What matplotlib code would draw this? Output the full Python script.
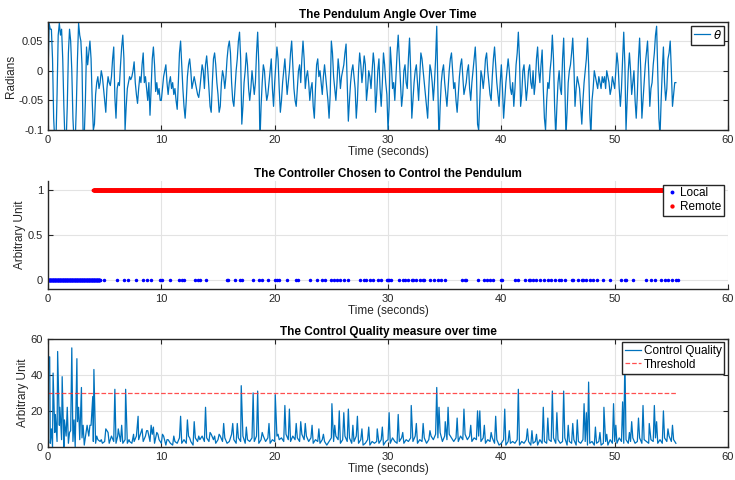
import numpy as np
import matplotlib
matplotlib.use("Agg")
import matplotlib.pyplot as plt

plt.rcParams["font.family"] = ["Liberation Sans", "DejaVu Sans"]
plt.rcParams["axes.unicode_minus"] = False

# pendulum angle, sampled every 0.1 s (one row per second)
theta_dt = 0.1
theta = [
    -0.01, 0.08, 0.07, 0.07, 0.02, -0.08, -0.12, -0.12, -0.04, 0.06,
    0.08, 0.06, 0.07, 0.02, -0.06, -0.12, -0.12, -0.06, 0.03, 0.07,
    0.05, 0.0, -0.08, -0.12, -0.12, -0.06, 0.02, 0.08, 0.06, 0.05,
    0.01, -0.11, -0.11, -0.05, 0.04, 0.01, 0.03, 0.05, 0.02, -0.05,
    -0.10, -0.09, -0.04, -0.02, -0.01, -0.03, -0.02, 0.0, -0.01, -0.03,
    -0.05, -0.07, -0.03, -0.01, -0.02, -0.025, -0.01, 0.02, 0.04, -0.045,
    -0.08, -0.03, -0.02, -0.025, 0.01, 0.04, 0.06, 0.02, -0.10, -0.06,
    -0.03, -0.02, -0.01, -0.015, -0.01, 0.0, 0.015, -0.02, -0.04, -0.055,
    -0.03, -0.01, -0.02, 0.01, 0.03, -0.02, -0.01, -0.03, -0.05, -0.02,
    -0.075, -0.03, 0.02, 0.04, 0.01, -0.035, -0.02, -0.04, -0.03, -0.05,
    -0.05, -0.03, -0.01, 0.0, 0.01, -0.02, -0.04, -0.02, -0.01, -0.03,
    -0.02, -0.04, -0.03, -0.05, -0.065, -0.02, 0.03, 0.05, 0.01, -0.03,
    -0.06, -0.08, -0.05, -0.01, 0.01, 0.02, 0.0, -0.03, -0.02, -0.01,
    -0.02, -0.03, -0.04, -0.045, -0.03, -0.01, 0.01, 0.0, -0.03, 0.01,
    0.025, 0.0, -0.03, -0.06, -0.07, -0.02, 0.02, 0.03, 0.01, -0.02,
    -0.04, -0.07, -0.06, -0.02, 0.0, -0.01, -0.03, -0.01, 0.02, 0.04,
    0.05, 0.03, -0.02, -0.05, -0.06, -0.03, 0.0, 0.02, 0.05, 0.065,
    0.02, -0.09, -0.06, -0.02, 0.0, 0.03, 0.01, -0.03, -0.05, -0.03,
    0.0, -0.02, -0.04, -0.02, 0.03, 0.065, 0.01, -0.12, -0.06, -0.02,
    0.01, 0.0, -0.03, -0.05, -0.04, -0.02, 0.0, 0.02, -0.03, -0.06,
    -0.02, 0.01, 0.04, 0.02, -0.03, -0.07, -0.05, -0.02, 0.0, 0.02,
    -0.01, -0.04, -0.02, 0.0, 0.03, 0.05, 0.01, -0.03, -0.05, -0.06,
    -0.03, 0.0, 0.01, -0.02, 0.02, 0.05, 0.02, -0.03, -0.01, 0.0,
    -0.02, -0.05, -0.03, -0.02, -0.06, -0.08, -0.03, 0.01, 0.02, -0.01,
    0.0, -0.02, -0.04, -0.01, 0.01, -0.01, -0.03, -0.05, -0.08, -0.04,
    0.05, 0.03, -0.01, -0.03, -0.05, -0.02, 0.02, 0.0, -0.03, -0.01,
    0.0, 0.01, 0.03, 0.045, -0.02, -0.085, -0.05, -0.02, 0.0, 0.01,
    -0.01, -0.03, -0.08, -0.05, 0.0, 0.03, 0.01, -0.02, 0.0, 0.025,
    0.01, -0.05, -0.03, 0.0, -0.01, -0.03, 0.0, 0.03, 0.01, -0.07,
    -0.04, 0.0, 0.02, -0.03, -0.06, -0.02, 0.03, 0.01, -0.02, -0.04,
    -0.10, -0.06, 0.04, 0.01, -0.03, -0.02, -0.05, -0.01, 0.03, 0.06,
    0.02, -0.02, -0.06, -0.04, 0.0, 0.01, -0.02, -0.03, 0.02, 0.055,
    0.0, -0.08, -0.05, -0.02, 0.0, 0.01, -0.02, -0.05, -0.01, 0.03,
    0.02, 0.0, -0.02, -0.04, -0.06, -0.08, -0.03, 0.01, 0.0, -0.02,
    -0.05, -0.02, 0.02, 0.075, -0.03, -0.12, -0.06, -0.02, 0.0, 0.01,
    -0.02, -0.04, -0.06, -0.03, 0.0, 0.02, 0.03, 0.0, -0.03, -0.02,
    -0.05, -0.07, -0.04, -0.01, 0.01, 0.02, -0.01, -0.04, -0.03, -0.02,
    0.0, 0.01, -0.03, -0.05, -0.02, 0.0, 0.02, 0.04, 0.0, -0.09,
    -0.10, -0.05, 0.0, -0.01, -0.03, -0.01, 0.02, 0.03, 0.0, -0.02,
    -0.04, -0.05, -0.01, 0.02, 0.04, 0.01, -0.02, -0.04, -0.06, -0.02,
    0.01, -0.03, -0.08, -0.05, -0.02, 0.0, 0.02, 0.0, -0.03, -0.04,
    -0.02, -0.06, -0.03, 0.01, 0.03, 0.065, 0.02, -0.06, -0.04, 0.0,
    0.01, -0.02, -0.05, -0.03, 0.0, 0.01, -0.02, -0.03, 0.0, -0.04,
    -0.02, 0.02, 0.04, 0.0, -0.02, 0.01, 0.035, -0.03, -0.08, -0.10,
    -0.05, -0.02, -0.03, 0.0, 0.02, 0.06, 0.02, -0.06, -0.11, -0.06,
    -0.02, 0.0, -0.03, -0.04, 0.02, 0.055, -0.02, -0.11, -0.07, -0.02,
    0.0, 0.01, 0.03, 0.055, 0.01, -0.06, -0.03, -0.01, -0.02, -0.03,
    -0.06, -0.09, -0.05, -0.02, 0.0, 0.02, 0.055, 0.01, -0.07, -0.11,
    -0.05, -0.03, 0.0, -0.01, -0.02, -0.03, -0.01, -0.02, -0.03, -0.01,
    -0.02, -0.01, -0.03, 0.0, -0.01, -0.02, -0.04, -0.03, -0.01, -0.02,
    -0.03, 0.0, 0.03, 0.01, -0.03, -0.06, -0.03, 0.02, 0.065, 0.01,
    -0.10, -0.05, 0.0, 0.03, 0.0, -0.04, -0.02, 0.0, -0.05, -0.08,
    -0.04, 0.02, 0.055, 0.0, -0.08, -0.05, -0.02, 0.01, 0.03, 0.05,
    0.0, -0.06, -0.03, -0.02, 0.01, 0.03, 0.06, 0.075, 0.0, -0.08,
    -0.11, -0.05, 0.0, 0.04, -0.02, -0.05, -0.03, 0.02, 0.03, 0.05,
    0.0, -0.06, -0.04, -0.02, -0.02,
]

# controller choice
sample_dt = 0.02
local_dense = (0.0, 4.6)
local_times = [
    4.9, 6.1, 6.7, 7.1, 7.8, 8.4, 8.7, 9.1, 9.9, 10.1, 10.8, 11.6, 11.8, 12.0,
    13.0, 13.2, 13.4, 13.9, 15.8, 15.9, 16.5, 16.9, 17.1, 18.1, 18.6, 18.9,
    19.4, 20.0, 20.2, 20.4, 21.1, 21.9, 22.1, 23.1, 23.7, 24.2, 24.4, 25.0,
    25.2, 25.5, 25.8, 26.1, 26.5, 27.5, 27.9, 28.1, 28.4, 28.7, 29.1, 29.4,
    29.9, 30.0, 30.1, 30.3, 31.0, 31.3, 31.5, 31.8, 32.1, 32.2, 32.5, 32.8,
    33.1, 33.2, 33.7, 34.1, 34.4, 34.7, 35.0, 36.5, 36.8, 36.9, 37.9, 38.5,
    38.7, 39.0, 39.3, 40.0, 40.1, 41.2, 41.5, 42.1, 42.4, 42.5, 42.8, 43.1,
    43.4, 43.8, 44.1, 44.4, 44.7, 45.1, 45.3, 45.6, 46.2, 46.3, 46.8, 47.1,
    47.2, 47.5, 47.8, 48.1, 48.4, 49.0, 49.6, 50.6, 50.9, 51.0, 51.6, 52.8,
    53.2, 53.6, 54.1, 54.4, 54.7, 55.1, 55.4, 55.6,
]
remote_span = (4.0, 55.6)

# control quality: baseline every 0.2 s plus spikes
base_dt = 0.2
quality_base = [
    5, 2, 0, 8, 3,   12, 4, 0, 6, 2,   9, 3, 0, 14, 4,   5, 1, 10, 6, 12,
    3, 2, 4, 3, 2,   3, 9, 2, 6, 3,    2, 10, 3, 2, 4,   2, 3, 2, 3, 6,
    4, 8, 3, 6, 9,   3, 7, 2, 8, 4,    2, 6, 1, 4, 2,    1, 3, 2, 5, 2,
    4, 2, 6, 3, 1,   5, 3, 4, 6, 3,    5, 3, 7, 4, 2,    4, 6, 3, 5, 2,
    3, 7, 4, 2, 5,   3, 6, 2, 4, 3,    5, 3, 6, 2, 4,    6, 3, 5, 2, 4,
    3, 6, 4, 5, 3,   7, 4, 3, 6, 4,    5, 3, 7, 4, 6,    3, 5, 2, 4, 3,
    2, 4, 3, 1, 3,   5, 3, 6, 4, 2,    4, 6, 3, 5, 2,    3, 6, 2, 4, 1,
    2, 4, 1, 3, 2,   3, 2, 4, 1, 3,    4, 2, 5, 3, 2,    3, 5, 2, 4, 3,
    5, 3, 6, 2, 4,   3, 5, 2, 4, 6,    4, 7, 5, 8, 3,    6, 4, 7, 5, 3,
    5, 3, 6, 4, 7,   4, 6, 3, 5, 4,    6, 3, 5, 2, 4,    3, 5, 2, 4, 1,
    2, 4, 1, 3, 2,   3, 2, 4, 1, 3,    2, 4, 3, 1, 2,    3, 1, 4, 2, 3,
    2, 4, 3, 5, 2,   4, 2, 3, 5, 1,    3, 2, 4, 1, 3,    2, 4, 3, 1, 2,
    3, 1, 2, 3, 1,   2, 3, 1, 4, 2,    3, 2, 5, 3, 2,    4, 2, 3, 5, 2,
    3, 5, 2, 4, 3,   2, 4, 3, 5, 2,    4, 2, 5, 3, 6,    3, 4, 2,
]
spike_t = [
    0.05, 0.15, 0.3, 0.45, 0.65, 0.85, 1.05, 1.25, 1.45, 1.7, 1.9, 2.1, 2.3,
    2.55, 2.7, 2.95, 3.1, 3.45, 3.7, 3.95, 4.05, 4.3, 4.7, 5.1, 5.3, 5.9,
    6.15, 6.5, 6.85, 7.15, 7.55, 7.95, 8.3, 8.7, 9.1, 9.3, 9.7, 10.1, 10.5,
    11.1, 11.7, 12.3, 12.5, 12.9, 13.3, 13.9, 14.3, 14.7, 15.1, 15.5, 16.3,
    16.7, 17.05, 17.5, 18.1, 18.5, 18.9, 19.5, 20.05, 20.3, 20.9, 21.3, 21.9,
    22.3, 22.7, 23.3, 23.9, 24.3, 25.05, 25.3, 25.7, 26.1, 26.5, 26.9, 27.3,
    27.7, 28.3, 29.05, 29.5, 30.1, 30.9, 31.3, 32.05, 32.5, 33.1, 33.7, 34.3,
    34.5, 35.05, 35.3, 36.1, 36.7, 37.3, 37.9, 38.1, 38.5, 39.1, 39.5, 40.3,
    40.7, 41.5, 42.3, 42.7, 43.1, 43.7, 44.1, 44.5, 44.9, 45.5, 45.9, 46.3,
    46.7, 47.3, 47.5, 47.7, 48.3, 48.7, 49.05, 49.3, 49.9, 50.1, 50.7, 50.9,
    51.3, 51.5, 52.1, 52.5, 53.05, 53.5, 53.7, 54.3, 54.7, 55.1,
]
spike_h = [
    50, 50, 10, 41, 18, 53, 22, 39, 15, 22, 8, 55, 15,
    49, 22, 33, 12, 12, 12, 28, 43, 6, 4, 10, 8, 32,
    6, 12, 32, 4, 7, 17, 10, 9, 12, 11, 7, 7, 4,
    6, 17, 15, 5, 14, 6, 22, 8, 6, 7, 13, 13,
    13, 34, 11, 30, 31, 8, 13, 29, 7, 23, 21, 13,
    14, 13, 12, 10, 7, 24, 12, 20, 19, 21, 12, 17,
    10, 11, 10, 11, 19, 18, 8, 23, 13, 13, 9, 33,
    22, 14, 22, 16, 21, 12, 20, 20, 12, 8, 17, 21,
    9, 32, 10, 9, 7, 22, 16, 31, 19, 31, 12, 13,
    15, 24, 19, 36, 11, 8, 22, 7, 24, 12, 25, 50,
    8, 14, 16, 23, 13, 23, 14, 20, 10, 12,
]
threshold = 30
threshold_span = (0.0, 55.5)

blue = "#0072BD"
spine_col = "#262626"

t_theta = np.arange(len(theta)) * theta_dt
t_base = np.arange(len(quality_base)) * base_dt
t_q = np.concatenate([t_base, spike_t])
q = np.concatenate([quality_base, spike_h])
order = np.argsort(t_q, kind="stable")
t_q, q = t_q[order], q[order]

local_t = np.concatenate([np.arange(local_dense[0], local_dense[1], sample_dt), local_times])
remote_t = np.arange(remote_span[0], remote_span[1], sample_dt)

fig = plt.figure(figsize=(7.35, 4.8), dpi=100)
left, width, height = 0.0653, 0.9252, 0.225
ax1 = fig.add_axes([left, 0.729, width, height])
ax2 = fig.add_axes([left, 0.398, width, height])
ax3 = fig.add_axes([left, 0.069, width, height])


def style(ax, box=True):
    ax.set_xlim(0, 60)
    ax.set_xticks([0, 10, 20, 30, 40, 50, 60])
    ax.grid(True, color="#e3e3e3", linewidth=0.8)
    ax.set_axisbelow(True)
    for s in ax.spines.values():
        s.set_color(spine_col)
        s.set_linewidth(1.0)
    if not box:
        ax.spines["top"].set_visible(False)
        ax.spines["right"].set_visible(False)
    ax.tick_params(direction="in", length=3.5, width=0.8, colors=spine_col,
                   labelcolor="#262626", labelsize=8, top=box, right=box)
    ax.set_xlabel("Time (seconds)", fontsize=8.5, color="#262626", labelpad=1)


leg_kw = dict(loc="upper right", fontsize=8.5, fancybox=False, framealpha=1,
              edgecolor=spine_col, borderpad=0.25, borderaxespad=0.3,
              handletextpad=0.2, labelspacing=0.1)

# panel 1
ax1.plot(t_theta, theta, color=blue, linewidth=0.9, label=r"$\theta$")
style(ax1)
ax1.set_ylim(-0.1, 0.082)
ax1.set_yticks([-0.1, -0.05, 0, 0.05])
ax1.set_yticklabels(["-0.1", "-0.05", "0", "0.05"])
ax1.set_ylabel("Radians", fontsize=8.5, color="#262626", labelpad=1)
ax1.set_title("The Pendulum Angle Over Time", fontsize=8.5, fontweight="bold", pad=3)
ax1.legend(handlelength=1.4, **leg_kw)

# panel 2
ax2.plot(local_t, np.zeros(len(local_t)), ".", color="#0000FF", markersize=3, label="Local")
ax2.plot(remote_t, np.ones(len(remote_t)), ".", color="#FF0000", markersize=3.5, label="Remote")
style(ax2, box=False)
ax2.set_ylim(-0.1, 1.1)
ax2.set_yticks([0, 0.5, 1])
ax2.set_yticklabels(["0", "0.5", "1"])
ax2.set_ylabel("Arbitrary Unit", fontsize=8.5, color="#262626", labelpad=1)
ax2.set_title("The Controller Chosen to Control the Pendulum", fontsize=8.5,
              fontweight="bold", pad=3)
ax2.legend(handlelength=1.0, markerscale=1.2, **leg_kw)

# panel 3
ax3.plot(t_q, q, color=blue, linewidth=0.9, label="Control Quality")
ax3.plot(threshold_span, [threshold, threshold], "--", color="#FF3030",
         linewidth=0.9, alpha=0.85, label="Threshold")
style(ax3)
ax3.set_ylim(0, 60)
ax3.set_yticks([0, 20, 40, 60])
ax3.set_ylabel("Arbitrary Unit", fontsize=8.5, color="#262626", labelpad=1)
ax3.set_title("The Control Quality measure over time", fontsize=8.5,
              fontweight="bold", pad=3)
ax3.legend(handlelength=1.4, **leg_kw)

fig.savefig("out.png", dpi=100)
